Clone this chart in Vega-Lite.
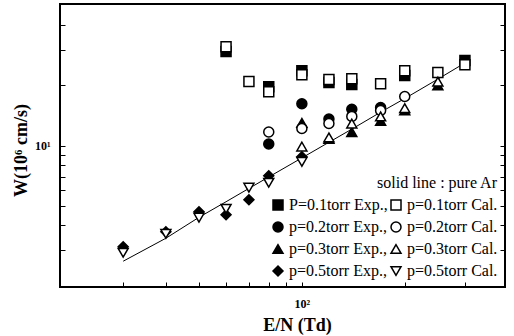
{
  "$schema": "https://vega.github.io/schema/vega-lite/v6.json",
  "width": 445,
  "height": 283,
  "autosize": {"type": "none"},
  "padding": {"left": 60, "top": 4, "right": 9, "bottom": 49},
  "background": "white",
  "config": {
    "view": {"stroke": "black", "strokeWidth": 2},
    "font": "Liberation Serif",
    "legend": {
      "titleFont": "Liberation Serif", "titleFontSize": 16, "titleFontWeight": "normal",
      "titleColor": "black", "titlePadding": 6, "titleAnchor": "end",
      "labelFont": "Liberation Serif", "labelFontSize": 16, "labelColor": "black",
      "labelOffset": 3, "labelLimit": 300,
      "symbolSize": 100, "symbolStrokeWidth": 1.5,
      "rowPadding": 6, "columnPadding": 0, "padding": 0
    }
  },
  "datasets": {
    "ar": [
      {"T": 30, "W": 2.65}, {"T": 40, "W": 3.45}, {"T": 50, "W": 4.39}, {"T": 60, "W": 5.25},
      {"T": 70, "W": 6.12}, {"T": 80, "W": 6.98}, {"T": 100, "W": 8.69}, {"T": 120, "W": 10.4},
      {"T": 140, "W": 12.1}, {"T": 170, "W": 14.7}, {"T": 200, "W": 17.2}, {"T": 250, "W": 21.5},
      {"T": 300, "W": 25.9}
    ],
    "pts": [
      {"T": 60, "W": 29.5, "s": "P=0.1torr Exp.,"},
      {"T": 80, "W": 19.7, "s": "P=0.1torr Exp.,"},
      {"T": 100, "W": 23.7, "s": "P=0.1torr Exp.,"},
      {"T": 120, "W": 20.7, "s": "P=0.1torr Exp.,"},
      {"T": 140, "W": 20.2, "s": "P=0.1torr Exp.,"},
      {"T": 200, "W": 22.4, "s": "P=0.1torr Exp.,"},
      {"T": 300, "W": 26.6, "s": "P=0.1torr Exp.,"},
      {"T": 80, "W": 10.2, "s": "p=0.2torr Exp.,"},
      {"T": 100, "W": 16.2, "s": "p=0.2torr Exp.,"},
      {"T": 120, "W": 13.6, "s": "p=0.2torr Exp.,"},
      {"T": 140, "W": 15.2, "s": "p=0.2torr Exp.,"},
      {"T": 170, "W": 15.5, "s": "p=0.2torr Exp.,"},
      {"T": 100, "W": 13.0, "s": "p=0.3torr Exp.,"},
      {"T": 120, "W": 10.8, "s": "p=0.3torr Exp.,"},
      {"T": 140, "W": 11.7, "s": "p=0.3torr Exp.,"},
      {"T": 170, "W": 13.3, "s": "p=0.3torr Exp.,"},
      {"T": 200, "W": 15.0, "s": "p=0.3torr Exp.,"},
      {"T": 250, "W": 20.0, "s": "p=0.3torr Exp.,"},
      {"T": 30, "W": 3.13, "s": "p=0.5torr Exp.,"},
      {"T": 40, "W": 3.72, "s": "p=0.5torr Exp.,"},
      {"T": 50, "W": 4.68, "s": "p=0.5torr Exp.,"},
      {"T": 60, "W": 4.52, "s": "p=0.5torr Exp.,"},
      {"T": 70, "W": 5.37, "s": "p=0.5torr Exp.,"},
      {"T": 80, "W": 7.08, "s": "p=0.5torr Exp.,"},
      {"T": 100, "W": 8.8, "s": "p=0.5torr Exp.,"},
      {"T": 60, "W": 31.2, "s": "p=0.1torr Cal."},
      {"T": 70, "W": 20.9, "s": "p=0.1torr Cal."},
      {"T": 80, "W": 18.6, "s": "p=0.1torr Cal."},
      {"T": 100, "W": 22.6, "s": "p=0.1torr Cal."},
      {"T": 120, "W": 21.4, "s": "p=0.1torr Cal."},
      {"T": 140, "W": 21.6, "s": "p=0.1torr Cal."},
      {"T": 170, "W": 20.4, "s": "p=0.1torr Cal."},
      {"T": 200, "W": 23.7, "s": "p=0.1torr Cal."},
      {"T": 250, "W": 23.2, "s": "p=0.1torr Cal."},
      {"T": 300, "W": 25.4, "s": "p=0.1torr Cal."},
      {"T": 80, "W": 11.7, "s": "p=0.2torr Cal."},
      {"T": 100, "W": 12.2, "s": "p=0.2torr Cal."},
      {"T": 120, "W": 12.9, "s": "p=0.2torr Cal."},
      {"T": 140, "W": 14.0, "s": "p=0.2torr Cal."},
      {"T": 170, "W": 15.0, "s": "p=0.2torr Cal."},
      {"T": 200, "W": 17.6, "s": "p=0.2torr Cal."},
      {"T": 100, "W": 9.9, "s": "p=0.3torr Cal."},
      {"T": 120, "W": 11.0, "s": "p=0.3torr Cal."},
      {"T": 140, "W": 12.9, "s": "p=0.3torr Cal."},
      {"T": 170, "W": 14.0, "s": "p=0.3torr Cal."},
      {"T": 200, "W": 15.4, "s": "p=0.3torr Cal."},
      {"T": 250, "W": 20.9, "s": "p=0.3torr Cal."},
      {"T": 30, "W": 2.92, "s": "p=0.5torr Cal."},
      {"T": 40, "W": 3.63, "s": "p=0.5torr Cal."},
      {"T": 50, "W": 4.37, "s": "p=0.5torr Cal."},
      {"T": 60, "W": 4.84, "s": "p=0.5torr Cal."},
      {"T": 70, "W": 6.17, "s": "p=0.5torr Cal."},
      {"T": 80, "W": 6.53, "s": "p=0.5torr Cal."},
      {"T": 100, "W": 8.3, "s": "p=0.5torr Cal."}
    ]
  },
  "layer": [
    {
      "data": {"name": "ar"},
      "mark": {"type": "line", "color": "black", "strokeWidth": 1},
      "encoding": {
        "x": {
          "field": "T", "type": "quantitative",
          "scale": {"type": "log", "domain": [19.6, 393], "nice": false},
          "axis": {
            "orient": "bottom",
            "values": [30, 40, 50, 60, 70, 80, 90, 100, 200, 300],
            "labelExpr": "datum.value == 100 ? '10²' : ''",
            "tickSize": -5, "tickColor": "black", "tickWidth": 1,
            "domain": false, "grid": false,
            "labelFont": "Liberation Serif", "labelFontWeight": "bold", "labelFontSize": 12,
            "labelColor": "black", "labelPadding": 16, "labelOverlap": false, "labelFlush": false,
            "title": "E/N (Td)", "titleFont": "Liberation Serif", "titleFontSize": 18,
            "titleFontWeight": "bold", "titleColor": "black",
            "titleX": 237, "titleY": 43, "titleBaseline": "alphabetic"
          }
        },
        "y": {
          "field": "W", "type": "quantitative",
          "scale": {"type": "log", "domain": [1.97, 51], "nice": false},
          "axis": {
            "orient": "left",
            "values": [3, 4, 5, 6, 7, 8, 9, 10, 20, 30, 40],
            "labelExpr": "datum.value == 10 ? '10¹' : ''",
            "tickSize": -5, "tickColor": "black", "tickWidth": 1,
            "domain": false, "grid": false,
            "labelFont": "Liberation Serif", "labelFontWeight": "bold", "labelFontSize": 12,
            "labelColor": "black", "labelPadding": 15, "labelOverlap": false, "labelFlush": false,
            "title": "W(10⁶ cm/s)", "titleFont": "Liberation Serif", "titleFontSize": 18,
            "titleFontWeight": "bold", "titleColor": "black",
            "titleX": -34, "titleY": 146, "titleAngle": -90, "titleBaseline": "alphabetic"
          }
        }
      }
    },
    {
      "data": {"name": "pts"},
      "mark": {"type": "point", "filled": true, "opacity": 1, "strokeWidth": 1.5, "size": 100},
      "encoding": {
        "x": {
          "field": "T", "type": "quantitative",
          "scale": {"type": "log", "domain": [19.6, 393], "nice": false}
        },
        "y": {
          "field": "W", "type": "quantitative",
          "scale": {"type": "log", "domain": [1.97, 51], "nice": false},
          "axis": {
            "orient": "right",
            "values": [3, 4, 5, 6, 7, 8, 9, 10, 20, 30, 40],
            "labels": false, "title": null,
            "tickSize": -5, "tickColor": "black", "tickWidth": 1,
            "domain": false, "grid": false
          }
        },
        "shape": {
          "field": "s", "type": "nominal",
          "scale": {
            "domain": ["P=0.1torr Exp.,", "p=0.1torr Cal.", "p=0.2torr Exp.,", "p=0.2torr Cal.", "p=0.3torr Exp.,", "p=0.3torr Cal.", "p=0.5torr Exp.,", "p=0.5torr Cal."],
            "range": ["square", "square", "circle", "circle", "triangle-up", "triangle-up", "diamond", "triangle-down"]
          },
          "legend": {
            "orient": "none", "legendX": 210, "legendY": 171, "columns": 2, "direction": "horizontal",
            "title": "solid line : pure Ar"
          }
        },
        "fill": {
          "field": "s", "type": "nominal",
          "scale": {
            "domain": ["P=0.1torr Exp.,", "p=0.1torr Cal.", "p=0.2torr Exp.,", "p=0.2torr Cal.", "p=0.3torr Exp.,", "p=0.3torr Cal.", "p=0.5torr Exp.,", "p=0.5torr Cal."],
            "range": ["black", "white", "black", "white", "black", "white", "black", "white"]
          },
          "legend": {
            "orient": "none", "legendX": 210, "legendY": 171, "columns": 2, "direction": "horizontal",
            "title": "solid line : pure Ar"
          }
        },
        "stroke": {
          "field": "s", "type": "nominal",
          "scale": {
            "domain": ["P=0.1torr Exp.,", "p=0.1torr Cal.", "p=0.2torr Exp.,", "p=0.2torr Cal.", "p=0.3torr Exp.,", "p=0.3torr Cal.", "p=0.5torr Exp.,", "p=0.5torr Cal."],
            "range": ["black", "black", "black", "black", "black", "black", "black", "black"]
          },
          "legend": {
            "orient": "none", "legendX": 210, "legendY": 171, "columns": 2, "direction": "horizontal",
            "title": "solid line : pure Ar"
          }
        }
      }
    }
  ],
  "resolve": {"scale": {"y": "independent"}, "axis": {"y": "independent"}}
}
